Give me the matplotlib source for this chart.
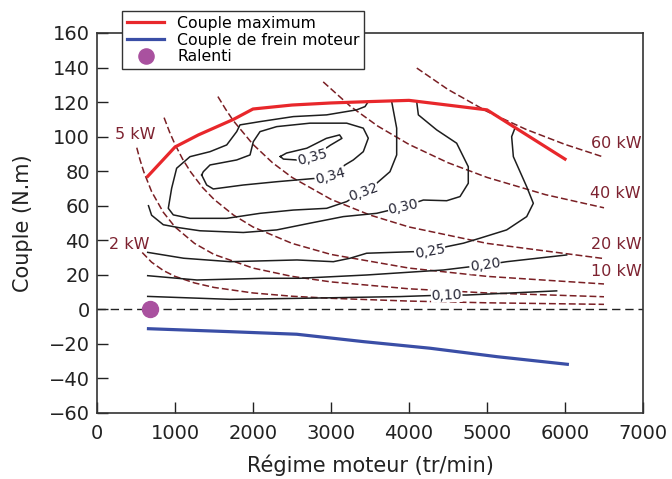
import matplotlib
matplotlib.use("Agg")
import matplotlib.pyplot as plt

plt.rcParams['font.family'] = ['DejaVu Sans']

# --- data (rpm, N.m) ---
max_rpm = [650, 1000, 1300, 1750, 2000, 2500, 3000, 3500, 4000, 5000, 6000]
max_torque = [77, 94, 101, 110, 116, 118.3, 119.5, 120.3, 121, 115.5, 87]

brake_rpm = [660, 1700, 2560, 3420, 4270, 5130, 6030]
brake_torque = [-11.2, -12.9, -14.4, -18.7, -22.5, -27.4, -31.8]

idle_rpm = [680]
idle_torque = [0]

# iso-power curves
p2_rpm = [580, 700, 850, 1000, 1250, 1500, 2000, 2500, 3000, 4000, 5000, 6500]
p2_t = [32.9, 27.3, 22.5, 19.1, 15.3, 12.7, 9.5, 7.6, 6.4, 4.8, 3.8, 2.9]
p5_rpm = [510, 550, 600, 700, 850, 1000, 1250, 1500, 2000, 2500, 3000, 4000, 5000, 6500]
p5_t = [93.6, 86.8, 79.6, 68.2, 56.2, 47.7, 38.2, 31.8, 23.9, 19.1, 15.9, 11.9, 9.5, 7.3]
p10_rpm = [860, 930, 1000, 1100, 1200, 1350, 1500, 1750, 2000, 2500, 3000, 4000, 5000, 6500]
p10_t = [111, 102.7, 95.5, 86.8, 79.6, 70.7, 63.7, 54.6, 47.7, 38.2, 31.8, 23.9, 19.1, 14.7]
p20_rpm = [1550, 1650, 1750, 2000, 2250, 2500, 3000, 3500, 4000, 5000, 6500]
p20_t = [123.2, 115.8, 109.1, 95.5, 84.9, 76.4, 63.7, 54.6, 47.7, 38.2, 29.4]
p40_rpm = [2900, 3250, 3600, 4000, 4500, 5000, 5750, 6500]
p40_t = [131.7, 117.5, 106.1, 95.5, 84.9, 76.4, 66.4, 58.8]
p60_rpm = [4100, 4500, 5000, 5500, 6000, 6500]
p60_t = [139.7, 127.3, 114.6, 104.2, 95.5, 88.1]

# efficiency contours
c35_rpm = [2350, 2430, 2690, 2940, 3110, 3140, 2990, 2750, 2560, 2390, 2350]
c35_t = [88.5, 90.5, 93.3, 99, 101, 99, 95, 87.5, 86.5, 87, 88.5]

c34_rpm = [1342, 1363, 1449, 1791, 1962, 2004, 2090, 2304, 2731, 3201, 3414, 3478, 3414,
           3286, 3179, 2987, 2816, 2304, 1876, 1491, 1406, 1342]
c34_t = [77.8, 79.7, 83.6, 86.5, 89.4, 97.1, 102.9, 105.8, 107.8, 107.8, 104.9, 99.1, 91.3,
         86.5, 83.6, 76.8, 75.9, 73.9, 72, 69.7, 72, 77.8]

c32_rpm = [3478, 3436, 3329, 2944, 2517, 2090, 1833, 1791, 1663, 1449, 1192, 1021, 957, 914,
           978, 1192, 1663, 2090, 2517, 2944, 3201, 3414, 3585, 3756, 3842, 3842, 3778]
c32_t = [120.3, 117.4, 115.5, 112.6, 111.6, 108.7, 106.8, 102.9, 95.2, 91.3, 88.4, 81.7, 70.1, 58.5,
         54.7, 52.7, 52.7, 55.6, 57.5, 58.5, 62.4, 68.2, 73, 79.7, 89.4, 104.9, 120.3]

c30_rpm = [660, 700, 850, 1050, 1320, 1876, 2304, 2731, 3158, 3585, 3900, 4184, 4483, 4654,
           4760, 4760, 4611, 4355, 4120, 4098]
c30_t = [60, 54.5, 49, 47.3, 45.5, 44.5, 46, 49.9, 53.7, 55.6, 59, 63.3, 62.9, 65.3,
         73, 82.6, 96.2, 103.9, 112.6, 120.5]

c25_rpm = [650, 1111, 1709, 2564, 3030, 3244, 3457, 4055, 4269, 4483, 4697, 4910, 5252, 5509,
           5594, 5509, 5338, 5316, 5359]
c25_t = [33, 29.6, 27.6, 28.6, 27.6, 29.6, 32.5, 33.4, 33.4, 36.3, 38.3, 41.2, 46, 53.7,
         61.4, 71, 88.4, 100, 105]

c20_rpm = [650, 1282, 2137, 2603, 3457, 4440, 4974, 5252, 6021]
c20_t = [19.5, 17, 18, 18, 19.9, 22.8, 25.7, 27.6, 31.5]

c10_rpm = [650, 1709, 2603, 3885, 4483, 4740, 5893]
c10_t = [7.5, 5.8, 6.4, 7.4, 8.3, 8.3, 10.7]

contour_labels = ['0,35', '0,34', '0,32', '0,30', '0,25', '0,20', '0,10']
label_rpm = [2760, 2990, 3414, 3927, 4269, 4974, 4483]
label_t = [88, 77, 68, 59.5, 33.4, 25.7, 8.3]
label_rot = [15, 15, 20, 12, 10, 8, 2]

power_labels = ['60 kW', '40 kW', '20 kW', '10 kW', '5 kW', '2 kW']
plabel_rpm = [6330, 6320, 6330, 6330, 235, 150]
plabel_t = [96.2, 67.2, 37.7, 22.2, 101, 37.7]

fig = plt.figure(figsize=(6.72, 4.79), dpi=100)
ax = fig.add_axes([97 / 672, 66 / 479, 546 / 672, 380 / 479])

dark_red = '#7a1f24'
for xs, ys in [(p2_rpm, p2_t), (p5_rpm, p5_t), (p10_rpm, p10_t),
               (p20_rpm, p20_t), (p40_rpm, p40_t), (p60_rpm, p60_t)]:
    ax.plot(xs, ys, color=dark_red, lw=1.1, dashes=(4.5, 2), zorder=2)

for xs, ys in [(c35_rpm, c35_t), (c34_rpm, c34_t), (c32_rpm, c32_t), (c30_rpm, c30_t),
               (c25_rpm, c25_t), (c20_rpm, c20_t), (c10_rpm, c10_t)]:
    ax.plot(xs, ys, color='#1e1e1e', lw=1.1, zorder=3)

ax.axhline(0, color='#222222', lw=1.0, dashes=(6, 3.5), zorder=2)

ax.plot(max_rpm, max_torque, color='#e8272b', lw=2.3, zorder=4, label='Couple maximum')
ax.plot(brake_rpm, brake_torque, color='#3a4ea6', lw=2.3, zorder=4, label='Couple de frein moteur')
ax.plot(idle_rpm, idle_torque, 'o', color='#a9519f', ms=11.5, zorder=5, label='Ralenti')

for s, x, y, r in zip(contour_labels, label_rpm, label_t, label_rot):
    ax.text(x, y, s, rotation=r, ha='center', va='center', fontsize=10, color='#262636',
            zorder=4.5, bbox=dict(fc='white', ec='none', pad=0.3))

for s, x, y in zip(power_labels, plabel_rpm, plabel_t):
    ax.text(x, y, s, ha='left', va='center', fontsize=11.5, color='#7d2230', zorder=4)

ax.set_xlim(0, 7000)
ax.set_ylim(-60, 160)
ax.set_xticks(range(0, 7001, 1000))
ax.set_yticks(range(-60, 161, 20))
ax.tick_params(direction='in', length=8, width=1, labelsize=14, colors='#222222')
ax.tick_params(axis='x', pad=8)
ax.tick_params(axis='y', pad=5)
for sp in ax.spines.values():
    sp.set_linewidth(1.2)
    sp.set_color('#333333')

ax.set_xlabel('Régime moteur (tr/min)', fontsize=15, color='#222222')
ax.set_ylabel('Couple (N.m)', fontsize=15, color='#222222')
ax.xaxis.set_label_coords(0.5, -0.11)
ax.yaxis.set_label_coords(-0.117, 0.5)

leg = ax.legend(loc='upper left', bbox_to_anchor=(0.046, 1.058), borderaxespad=0,
                fontsize=11.3, fancybox=False, edgecolor='#333333', framealpha=1,
                handlelength=2.4, handletextpad=0.8, labelspacing=0.12, borderpad=0.3,
                numpoints=1, markerscale=0.95)
leg.get_frame().set_linewidth(1.0)
leg.set_zorder(10)

fig.savefig('out.png', dpi=100)
